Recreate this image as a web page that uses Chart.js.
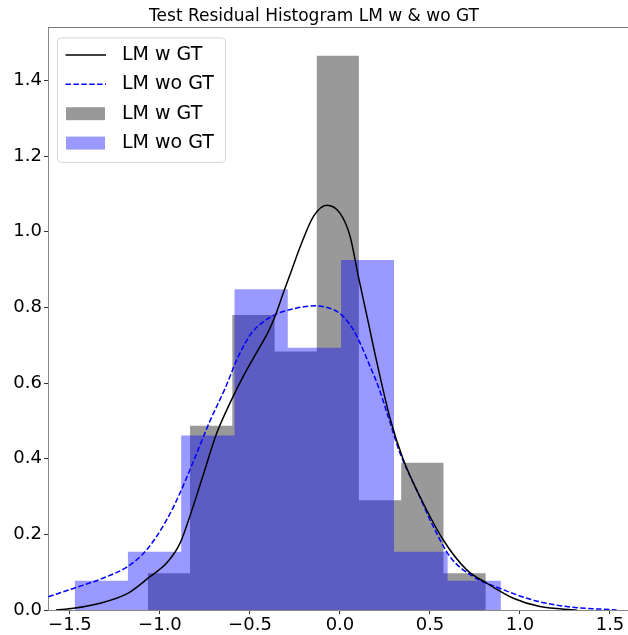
<!DOCTYPE html>
<html>
<head>
<meta charset="utf-8">
<script src="https://cdn.jsdelivr.net/npm/chart.js@4.4.1/dist/chart.umd.min.js"></script>
<style>
  html, body { margin: 0; padding: 0; background: #fff; }
</style>
</head>
<body>
<canvas id="chart" width="628" height="635"></canvas>
<script>
// histogram bins (density)
let binsW = [-1.068, -0.833, -0.598, -0.363, -0.129, 0.105, 0.340, 0.575, 0.810]
let histW = [0.097, 0.487, 0.780, 0.683, 1.465, 0.290, 0.389, 0.097]

let binsWo = [-1.474, -1.178, -0.882, -0.586, -0.290, 0.006, 0.300, 0.598, 0.894]
let histWo = [0.077, 0.154, 0.461, 0.848, 0.693, 0.925, 0.154, 0.077]

// kde curves
let kdeXW = [-1.578, -1.481, -1.333, -1.179, -1.056, -0.963, -0.889, -0.824, -0.759, -0.685, -0.602, -0.528, -0.454, -0.398, -0.361, -0.315, -0.268, -0.222, -0.148, -0.074, 0.0, 0.056, 0.102, 0.152, 0.2, 0.278, 0.352, 0.444, 0.574, 0.704, 0.815, 0.963, 1.111, 1.315]
let kdeYW = [0.0, 0.0045, 0.018, 0.044, 0.088, 0.124, 0.176, 0.262, 0.358, 0.467, 0.556, 0.626, 0.688, 0.736, 0.776, 0.838, 0.899, 0.959, 1.040, 1.070, 1.049, 0.988, 0.882, 0.772, 0.665, 0.507, 0.397, 0.300, 0.185, 0.106, 0.071, 0.031, 0.009, 0.0]

let kdeXWo = [-1.62, -1.481, -1.296, -1.179, -1.074, -0.963, -0.889, -0.815, -0.722, -0.639, -0.565, -0.491, -0.38, -0.268, -0.139, -0.037, 0.018, 0.074, 0.12, 0.167, 0.213, 0.268, 0.333, 0.426, 0.519, 0.611, 0.741, 0.889, 1.074, 1.259, 1.537]
let kdeYWo = [0.035, 0.057, 0.088, 0.115, 0.159, 0.238, 0.309, 0.392, 0.500, 0.585, 0.670, 0.732, 0.776, 0.795, 0.804, 0.794, 0.776, 0.741, 0.697, 0.644, 0.591, 0.511, 0.415, 0.317, 0.220, 0.141, 0.088, 0.057, 0.026, 0.009, 0.0]

let xTicks = [-1.5, -1.0, -0.5, 0.0, 0.5, 1.0, 1.5]
let yTicks = [0.0, 0.2, 0.4, 0.6, 0.8, 1.0, 1.2, 1.4]

function histPoints(edges, heights) {
  let pts = [{x: edges[0], y: 0}]
  heights.forEach((h, i) => {
    pts.push({x: edges[i], y: h})
    pts.push({x: edges[i + 1], y: h})
  })
  pts.push({x: edges[edges.length - 1], y: 0})
  return pts
}

function curve(xs, ys) {
  return xs.map((x, i) => ({x: x, y: ys[i]}))
}

function fmt(v) {
  return (v < 0 ? '\u2212' : '') + Math.abs(v).toFixed(1)
}

const font = 'DejaVu Sans'
Chart.defaults.font.family = font

// top spine + legend drawn inside the axes like matplotlib
const frameAndLegend = {
  id: 'frameAndLegend',
  afterDraw(chart) {
    const ctx = chart.ctx
    const a = chart.chartArea
    ctx.save()
    ctx.strokeStyle = '#777'
    ctx.lineWidth = 1
    ctx.beginPath()
    ctx.moveTo(a.left, Math.round(a.top) + 0.5)
    ctx.lineTo(a.right, Math.round(a.top) + 0.5)
    ctx.stroke()

    const x0 = a.left + 9.5, y0 = a.top + 10.5, w = 168, h = 124.5
    ctx.fillStyle = 'rgba(255,255,255,0.8)'
    ctx.strokeStyle = '#d6d6d6'
    ctx.beginPath()
    ctx.roundRect(x0, y0, w, h, 4)
    ctx.fill()
    ctx.stroke()

    ctx.font = '19px "' + font + '"'
    ctx.textBaseline = 'middle'
    ctx.textAlign = 'left'
    chart.data.datasets.forEach((ds, i) => {
      const cy = y0 + 17 + i * 29.4
      if (ds.fill) {
        ctx.fillStyle = ds.backgroundColor
        ctx.fillRect(x0 + 8.5, cy - 6.5, 39, 13)
      } else {
        ctx.strokeStyle = ds.borderColor
        ctx.lineWidth = ds.borderWidth
        ctx.setLineDash(ds.borderDash || [])
        ctx.beginPath()
        ctx.moveTo(x0 + 8, cy)
        ctx.lineTo(x0 + 48.5, cy)
        ctx.stroke()
        ctx.setLineDash([])
      }
      ctx.fillStyle = '#000'
      ctx.fillText(ds.label, x0 + 64.5, cy)
    })
    ctx.restore()
  }
}

new Chart(document.getElementById('chart'), {
  type: 'line',
  data: {
    datasets: [
      {
        label: 'LM w GT',
        data: curve(kdeXW, kdeYW),
        borderColor: '#000',
        borderWidth: 1.5,
        pointRadius: 0,
        fill: false,
        cubicInterpolationMode: 'monotone',
        order: 0
      },
      {
        label: 'LM wo GT',
        data: curve(kdeXWo, kdeYWo),
        borderColor: '#0000ff',
        borderWidth: 1.5,
        borderDash: [5.5, 2.4],
        pointRadius: 0,
        fill: false,
        cubicInterpolationMode: 'monotone',
        order: 1
      },
      {
        label: 'LM w GT',
        data: histPoints(binsW, histW),
        backgroundColor: 'rgba(0,0,0,0.4)',
        borderWidth: 0,
        pointRadius: 0,
        fill: 'origin',
        order: 3
      },
      {
        label: 'LM wo GT',
        data: histPoints(binsWo, histWo),
        backgroundColor: 'rgba(0,0,255,0.4)',
        borderWidth: 0,
        pointRadius: 0,
        fill: 'origin',
        order: 2
      }
    ]
  },
  options: {
    responsive: false,
    animation: false,
    events: [],
    layout: { padding: 0 },
    plugins: {
      legend: { display: false },
      tooltip: { enabled: false },
      title: {
        display: true,
        text: 'Test Residual Histogram LM w & wo GT',
        color: '#000',
        font: { family: font, size: 17, weight: 'normal' },
        padding: { top: 6, bottom: 1 }
      }
    },
    scales: {
      x: {
        type: 'linear',
        min: -1.622,
        max: 1.6,
        afterFit: s => { s.height = 25 },
        afterBuildTicks: s => { s.ticks = xTicks.map(v => ({value: v})) },
        ticks: {
          color: '#000',
          font: { family: font, size: 18 },
          padding: 1,
          maxRotation: 0,
          autoSkip: false,
          callback: v => fmt(v)
        },
        grid: { display: true, drawOnChartArea: false, drawTicks: true, tickLength: 4, tickColor: '#333', tickWidth: 1 },
        border: { display: true, color: '#888', width: 1 }
      },
      y: {
        type: 'linear',
        min: 0,
        max: 1.54,
        afterFit: s => { s.width = 48 },
        afterBuildTicks: s => { s.ticks = yTicks.map(v => ({value: v})) },
        ticks: {
          color: '#000',
          font: { family: font, size: 18 },
          padding: 2,
          autoSkip: false,
          callback: v => fmt(v)
        },
        grid: { display: true, drawOnChartArea: false, drawTicks: true, tickLength: 4, tickColor: '#333', tickWidth: 1 },
        border: { display: true, color: '#888', width: 1 }
      }
    }
  },
  plugins: [frameAndLegend]
});
</script>
</body>
</html>
